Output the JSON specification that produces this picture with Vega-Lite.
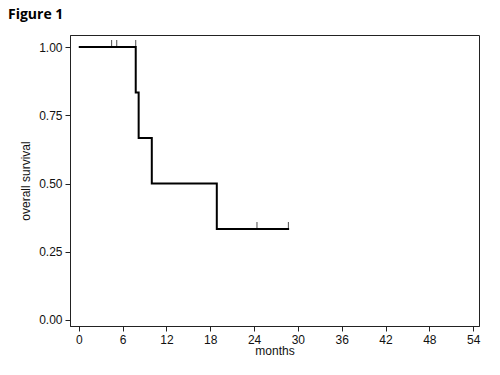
{
  "$schema": "https://vega.github.io/schema/vega-lite/v6.json",
  "width": 409,
  "height": 291,
  "autosize": {"type": "none"},
  "padding": {"left": 70, "top": 35, "right": 21, "bottom": 49},
  "background": "white",
  "title": {"text": "Figure 1", "anchor": "start", "frame": "group", "dx": -62, "offset": 13, "font": "Open Sans", "fontSize": 14, "fontWeight": "bold", "color": "black"},
  "config": {
    "view": {"stroke": "#222", "strokeWidth": 1},
    "axis": {"labelFont": "Liberation Sans", "titleFont": "Liberation Sans", "labelFontSize": 12, "titleFontSize": 12, "titleFontWeight": "normal", "labelColor": "#111", "titleColor": "#111", "tickColor": "#222", "domainColor": "#222", "grid": false, "tickSize": 5}
  },
  "datasets": {
    "km": [
      {"t": 0, "s": 1},
      {"t": 7.8, "s": 0.833},
      {"t": 8.2, "s": 0.667},
      {"t": 10.0, "s": 0.5},
      {"t": 18.9, "s": 0.333},
      {"t": 28.8, "s": 0.333}
    ],
    "cens": [
      {"t": 4.5, "s": 1},
      {"t": 5.2, "s": 1},
      {"t": 7.8, "s": 1},
      {"t": 24.4, "s": 0.333},
      {"t": 28.7, "s": 0.333}
    ]
  },
  "layer": [
    {
      "data": {"name": "km"},
      "mark": {"type": "line", "interpolate": "step-after", "color": "black", "strokeWidth": 2},
      "encoding": {
        "x": {"field": "t", "type": "quantitative", "scale": {"domain": [-1.2, 54.8], "nice": false, "zero": false}, "axis": {"values": [0, 6, 12, 18, 24, 30, 36, 42, 48, 54], "title": "months", "titlePadding": 0, "labelPadding": 3}},
        "y": {"field": "s", "type": "quantitative", "scale": {"domain": [-0.022, 1.044], "nice": false, "zero": false}, "axis": {"values": [0, 0.25, 0.5, 0.75, 1], "format": ".2f", "title": "overall survival", "titlePadding": 6, "labelPadding": 3}}
      }
    },
    {
      "data": {"name": "cens"},
      "mark": {"type": "tick", "orient": "vertical", "color": "black", "size": 7, "thickness": 1, "yOffset": -3.5},
      "encoding": {
        "x": {"field": "t", "type": "quantitative"},
        "y": {"field": "s", "type": "quantitative"}
      }
    }
  ]
}
